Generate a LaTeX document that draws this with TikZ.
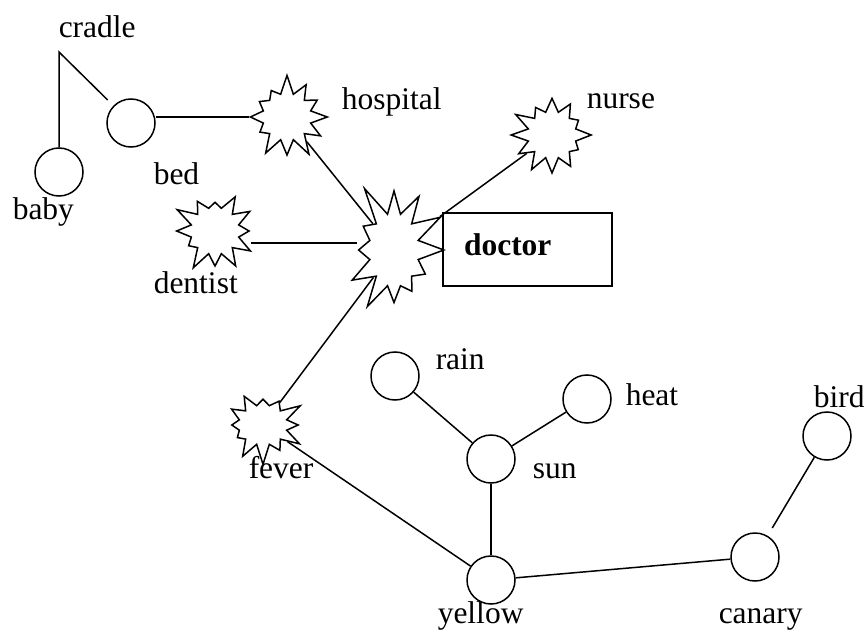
\documentclass[tikz,border=0pt]{standalone}
\usepackage{fontspec}
\setmainfont{Liberation Serif}
\usetikzlibrary{shapes.symbols}
\begin{document}
\begin{tikzpicture}[x=1pt,y=-1pt,line width=1.5pt,
  lbl/.style={font=\fontsize{31.5}{36}\selectfont,inner sep=0pt,anchor=base west},
  ball/.style={circle,draw,minimum size=48pt,inner sep=0pt,fill=white},
  burst/.style={starburst,draw,fill=white,inner sep=0pt,starburst points=12,
    starburst point height=20pt,minimum width=89pt,minimum height=87pt},
  bigburst/.style={burst,starburst points=12,starburst point height=36pt,
    minimum width=122pt,minimum height=146pt},
  link/.style={draw,line width=1.5pt}]
\useasboundingbox (0,0) rectangle (864,631);
% nodes
\node[ball] (baby) at (59,172) {};
\node[ball] (bed) at (131,123) {};
\coordinate (cr) at (59,52);
\node[burst,random starburst=7] (hosp) at (287,117) {};
\node[burst,random starburst=23] (dent) at (215,231) {};
\node[burst,random starburst=41] (nurse) at (552,135) {};
\node[burst,random starburst=13,minimum height=80pt] (fever) at (263,425) {};
\node[bigburst,random starburst=5] (doc) at (394,250) {};
\node[draw,line width=1.5pt,minimum width=169pt,minimum height=73pt,inner xsep=21pt,
  text width=127pt,align=left,text height=22pt,text depth=11pt,
  font=\fontsize{31.5}{36}\selectfont\bfseries] (box) at (527.5,249.5) {doctor};
\node[ball] (rain) at (395,376) {};
\node[ball] (sun) at (491,459) {};
\node[ball] (heat) at (587,399) {};
\node[ball] (yellow) at (491,580) {};
\node[ball] (canary) at (755,557) {};
\node[ball] (bird) at (827,436) {};
% labels
\node[lbl] (tcradle) at (58,38) {cradle};
\node[lbl] (tbaby) at (12,219) {baby};
\node[lbl] (tbed) at (153,185) {bed};
\node[lbl] (thosp) at (341,110) {hospital};
\node[lbl] (tdent) at (153,293) {dentist};
\node[lbl] (tnurse) at (586,109) {nurse};
\node[lbl] (train) at (435,369) {rain};
\node[lbl] (theat) at (625,405) {heat};
\node[lbl] (tbird) at (813,407) {bird};
\node[lbl] (tsun) at (532,478) {sun};
\node[lbl] (tfever) at (248,478) {fever};
\node[lbl] (tyellow) at (437,623) {yellow};
\node[lbl] (tcanary) at (718,623) {canary};
% connectors
\draw[link,shorten >=8pt] (baby.north) -- (cr) -- (bed);
\draw[link] (bed.east |- hosp) -- (hosp);
\draw[link] (hosp) -- (doc);
\draw[link] (dent.east |- 0,243) -- (doc.west |- 0,243);
\draw[link] (doc) -- (nurse);
\draw[link] (doc) -- (fever);
\draw[link] (fever) -- (yellow);
\draw[link] (rain) -- (sun);
\draw[link] (sun) -- (heat);
\draw[link] (sun) -- (yellow);
\draw[link] (yellow) -- (canary);
\draw[link,shorten >=9pt] (bird) -- (canary);
\end{tikzpicture}
\end{document}
